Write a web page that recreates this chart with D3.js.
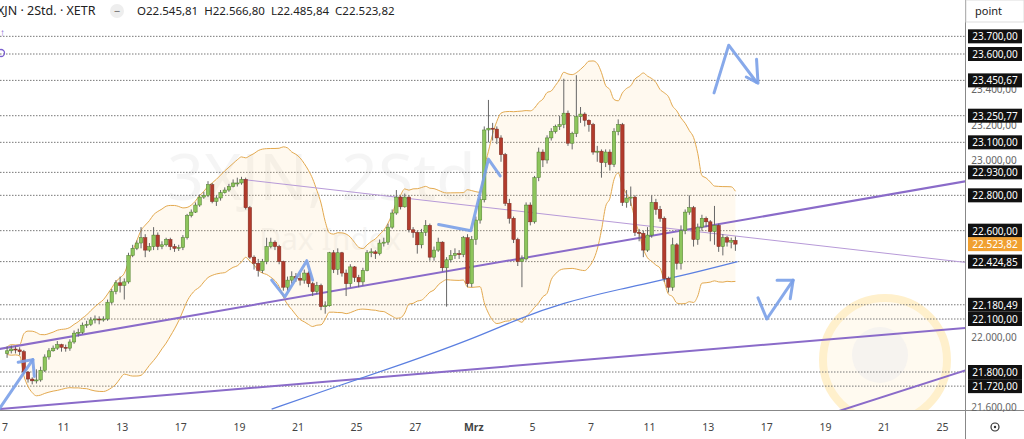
<!DOCTYPE html>
<html><head><meta charset="utf-8">
<script src="https://cdn.jsdelivr.net/npm/d3@7"></script>
<style>body{margin:0;background:#fff;font-family:"Noto Sans",sans-serif}</style>
</head><body><svg id="c" width="1024" height="439"></svg>
<script>
// closes, 7 two-hour candles per trading day, Feb 7 .. Mar 13
const closes = [
21920,21930,21925,21915,21800,21760,21750,
21755,21810,21885,21920,21935,21955,21940,
21935,21970,22020,22025,22065,22070,22095,
22100,22095,22100,22195,22255,22305,22290,
22310,22460,22500,22530,22560,22490,22510,
22575,22510,22520,22550,22510,22500,22505,
22560,22685,22705,22745,22790,22800,22860,
22765,22785,22815,22830,22850,22870,22870,
22890,22730,22450,22415,22375,22425,22510,
22535,22510,22425,22280,22320,22340,22330,
22320,22360,22300,22255,22290,22170,22175,
22475,22380,22475,22360,22300,22395,22335,
22310,22375,22475,22480,22470,22530,22535,
22620,22700,22790,22735,22790,22605,22590,
22520,22590,22630,22450,22490,22535,22390,
22435,22460,22470,22465,22560,22300,22550,
22660,22775,23170,23180,23175,23125,23030,
22755,22670,22550,22425,22440,22745,22650,
22900,23045,23000,23125,23160,23190,23200,
23265,23095,23150,23245,23260,23225,23200,
23045,23050,22985,23045,22975,23160,23200,
22760,22785,22790,22590,22585,22490,22575,
22760,22720,22670,22330,22280,22520,22415,
22600,22705,22730,22550,22620,22670,22650,
22595,22630,22510,22560,22535,22545,22523.82];
const firstOpen = 21905;
const highs = [
21945,21950,21945,21940,21925,21805,21770,
21815,21830,21900,21935,21950,21975,21960,
21955,21985,22035,22045,22080,22090,22110,
22120,22115,22115,22210,22270,22320,22340,
22330,22475,22520,22545,22620,22580,22530,
22620,22590,22540,22560,22560,22525,22520,
22575,22695,22720,22760,22805,22820,22880,
22870,22800,22830,22845,22865,22890,22900,
22905,22900,22740,22460,22440,22440,22560,
22560,22545,22520,22430,22340,22370,22360,
22360,22380,22370,22310,22310,22300,22200,
22480,22490,22500,22480,22380,22410,22400,
22350,22390,22490,22500,22490,22550,22560,
22640,22720,22830,22800,22810,22800,22620,
22600,22610,22660,22640,22510,22560,22540,
22450,22490,22500,22490,22570,22580,22570,
22680,22790,23190,23340,23210,23190,23140,
23040,22780,22680,22560,22460,22760,22760,
22910,23070,23060,23140,23180,23200,23250,
23460,23280,23160,23480,23300,23270,23230,
23210,23080,23060,23060,23060,23180,23230,
23210,22830,22850,22800,22610,22600,22620,
22800,22780,22740,22680,22340,22560,22530,
22630,22720,22800,22740,22640,22690,22680,
22660,22740,22640,22580,22570,22560,22566.8];
const lows = [
21880,21905,21905,21895,21790,21740,21730,
21735,21745,21800,21870,21915,21925,21915,
21915,21920,21960,22000,22015,22050,22060,
22075,22070,22085,22090,22185,22240,22250,
22210,22300,22450,22490,22500,22450,22480,
22490,22490,22495,22510,22490,22480,22485,
22490,22550,22675,22700,22735,22780,22790,
22755,22740,22770,22810,22820,22845,22850,
22860,22720,22440,22380,22340,22360,22410,
22500,22490,22410,22260,22260,22300,22310,
22290,22300,22280,22230,22240,22150,22130,
22170,22360,22350,22340,22230,22280,22310,
22280,22290,22370,22450,22440,22460,22510,
22520,22610,22690,22720,22730,22590,22560,
22470,22500,22570,22430,22430,22480,22370,
22170,22420,22440,22440,22450,22280,22280,
22520,22640,22760,23100,23110,23090,22990,
22740,22640,22530,22400,22280,22430,22630,
22640,22880,22960,22980,23110,23150,23170,
23180,23080,23060,23130,23210,23190,23160,
23030,22990,22900,22960,22940,22960,23140,
22740,22730,22740,22570,22540,22450,22480,
22560,22690,22650,22310,22250,22260,22380,
22380,22580,22690,22510,22520,22600,22620,
22540,22520,22480,22460,22510,22500,22485.84];
// purple / blue line endpoints (day index, price)
const trendA = [[-0.2,21930],[32.8,22880]];
const trendB = [[8.1,22890],[32.8,22420]];
const trendC = [[-0.2,21590],[32.8,22050]];
const trendD = [[25.75,21435],[32.8,21810]];
const blueMA = [[9.1,21590],[11,21700],[13.5,21840],[16,21990],[17.5,22100],[19,22190],[21,22270],[23,22340],[25,22425]];
// hand-drawn arrows (day index, price)
const arrows = [
 [[-0.2,21590],[0.95,21870]],
 [[0.45,21855],[0.95,21870],[1.0,21775]],
 [[9.1,22320],[9.55,22225],[10.3,22430],[10.5,22320]],
 [[14.8,22635],[15.9,22600],[16.5,23005],[16.9,22910]],
 [[24.2,23380],[24.7,23650],[25.65,23440]],
 [[25.3,23470],[25.7,23435],[25.65,23570]],
 [[25.7,22220],[26.0,22100],[26.9,22320]],
 [[26.35,22320],[26.9,22320],[26.8,22215]]];
const levels = [23700,23600,23450.67,23250.77,23100,22930,22800,22600,22424.85,22180.49,22100,21800,21720];
const plainTicks = [23400,23200,23000,22000,21600];
const lastPrice = 22523.82;
const dayTicks = [[0,"7"],[2,"11"],[4,"13"],[6,"17"],[8,"19"],[10,"21"],[12,"25"],[14,"27"],[16,"Mrz"],[18,"5"],[20,"7"],[22,"11"],[24,"13"],[26,"17"],[28,"19"],[30,"21"],[32,"25"]];
const header = "XJN · 2Std. · XETR";
const ohlc = "O22.545,81  H22.566,80  L22.485,84  C22.523,82";

const svg = d3.select("#c");
const W=965, B=410;
const x = d3.scaleLinear().domain([0,32]).range([5,5+29.3*32]);
const y = d3.scaleLinear().domain([22100,23600]).range([319,54]);
const fmt = v => d3.format(",.2f")(v).replace(/,/g,"#").replace(".",",").replace(/#/g,".");
const cx = i => x((i+0.5)/7);

const plot = svg.append("g");
plot.append("defs").append("clipPath").attr("id","cp").append("rect").attr("width",W).attr("height",B);
const g = plot.append("g").attr("clip-path","url(#cp)");

// watermark
g.append("text").attr("x",330).attr("y",200).attr("text-anchor","middle").attr("font-size",64).attr("fill","#000").attr("opacity",0.035).text("3XJN, 2Std.");
g.append("text").attr("x",330).attr("y",250).attr("text-anchor","middle").attr("font-size",30).attr("fill","#000").attr("opacity",0.035).text("Dax Index");
g.append("circle").attr("cx",885).attr("cy",360).attr("r",62).attr("fill","#fffaf0").attr("stroke","#fff0cc").attr("stroke-width",8);
g.append("circle").attr("cx",880).attr("cy",355).attr("r",28).attr("fill","#f6f3ef");

// levels
levels.forEach(v=>g.append("line").attr("x1",0).attr("x2",W).attr("y1",y(v)).attr("y2",y(v)).attr("stroke","#777").attr("stroke-dasharray","1.5,1.5").attr("stroke-width",1));

// bollinger
const N=20, bb=[];
closes.forEach((c,i)=>{const s=closes.slice(Math.max(0,i-N+1),i+1);const m=d3.mean(s);const sd=Math.sqrt(d3.mean(s,v=>(v-m)*(v-m)));bb.push({i,u:m+2*sd+20,l:m-2*sd-20});});
g.append("path").datum(bb).attr("d",d3.area().x(d=>cx(d.i)).y0(d=>y(d.l)).y1(d=>y(d.u)).curve(d3.curveMonotoneX)).attr("fill","rgba(255,205,130,0.13)");
["u","l"].forEach(k=>g.append("path").datum(bb).attr("d",d3.line().x(d=>cx(d.i)).y(d=>y(d[k])).curve(d3.curveMonotoneX)).attr("fill","none").attr("stroke","#e3a94f").attr("stroke-width",1));

// lines
const ln = d3.line().x(d=>x(d[0])).y(d=>y(d[1]));
[[trendA,2,"#8a6bc9"],[trendC,2,"#8a6bc9"],[trendD,2,"#8a6bc9"],[trendB,1,"#b79ad8"]].forEach(([d,w,c])=>g.append("path").attr("d",ln(d)).attr("fill","none").attr("stroke",c).attr("stroke-width",w));
g.append("path").attr("d",d3.line().x(d=>x(d[0])).y(d=>y(d[1])).curve(d3.curveBasis)(blueMA)).attr("fill","none").attr("stroke","#5b7fe0").attr("stroke-width",1.2);

// candles
closes.forEach((c,i)=>{
  const o = i? closes[i-1]:firstOpen, up=c>=o, X=cx(i);
  g.append("line").attr("x1",X).attr("x2",X).attr("y1",y(highs[i])).attr("y2",y(lows[i])).attr("stroke","#666").attr("stroke-width",1);
  const t=y(Math.max(o,c)), b=y(Math.min(o,c));
  g.append("rect").attr("x",X-1.7).attr("width",3.4).attr("y",t).attr("height",Math.max(1,b-t)).attr("fill",up?"#8dc55c":"#b23b2c").attr("stroke",up?"#4d7d2c":"#7a2a20").attr("stroke-width",0.5);
});

// arrows
arrows.forEach(a=>g.append("path").attr("d",ln(a)).attr("fill","none").attr("stroke","#7aa0e8").attr("stroke-width",3).attr("stroke-linecap","round").attr("stroke-linejoin","round").attr("opacity",0.9));

// frame
svg.append("line").attr("x1",W+0.5).attr("x2",W+0.5).attr("y1",0).attr("y2",439).attr("stroke","#888");
svg.append("line").attr("x1",0).attr("x2",1024).attr("y1",B+0.5).attr("y2",B+0.5).attr("stroke","#888");

// x axis
dayTicks.forEach(([d,t])=>svg.append("text").attr("x",x(d)).attr("y",431).attr("text-anchor","middle").attr("font-size",10.5).attr("fill","#444").attr("font-weight",t==="Mrz"?"bold":"normal").text(t));

// right axis
const ax = svg.append("g");
plainTicks.forEach(v=>ax.append("text").attr("x",994).attr("y",y(v)+4).attr("text-anchor","middle").attr("font-size",10).attr("fill","#666").text(fmt(v)));
levels.forEach(v=>{const yy=y(v);ax.append("rect").attr("x",968).attr("y",yy-7).attr("width",54).attr("height",14).attr("fill","#111");ax.append("text").attr("x",995).attr("y",yy+4).attr("text-anchor","middle").attr("font-size",10).attr("fill","#fff").text(fmt(v));});
ax.append("rect").attr("x",968).attr("y",y(lastPrice)-7).attr("width",54).attr("height",14).attr("fill","#f0a030");
ax.append("text").attr("x",995).attr("y",y(lastPrice)+4).attr("text-anchor","middle").attr("font-size",10).attr("fill","#fff").text(fmt(lastPrice));
svg.append("rect").attr("x",966).attr("y",0).attr("width",58).attr("height",22).attr("fill","#fff").attr("stroke","#ddd");
svg.append("text").attr("x",975).attr("y",15).attr("font-size",11).attr("fill","#222").text("point");
svg.append("circle").attr("cx",995).attr("cy",427).attr("r",4).attr("fill","none").attr("stroke","#333").attr("stroke-width",1.2);
svg.append("circle").attr("cx",995).attr("cy",427).attr("r",1.2).attr("fill","#333");

// header
svg.append("rect").attr("x",0).attr("y",0).attr("width",W).attr("height",20).attr("fill","rgba(255,255,255,0.85)");
svg.append("text").attr("x",-3).attr("y",15).attr("font-size",12.5).attr("fill","#222").text(header);
svg.append("circle").attr("cx",117).attr("cy",11).attr("r",7).attr("fill","#eee");
svg.append("text").attr("x",117).attr("y",15).attr("text-anchor","middle").attr("font-size",11).attr("fill","#666").text("−");
svg.append("text").attr("x",137).attr("y",15).attr("font-size",11.5).attr("fill","#222").attr("xml:space","preserve").text(ohlc);
svg.append("text").attr("x",0).attr("y",36).attr("font-size",10).attr("fill","#7b5fd0").text("↑");
svg.append("circle").attr("cx",1).attr("cy",53).attr("r",3.5).attr("fill","none").attr("stroke","#7b5fd0").attr("stroke-width",1.3);
</script></body></html>
